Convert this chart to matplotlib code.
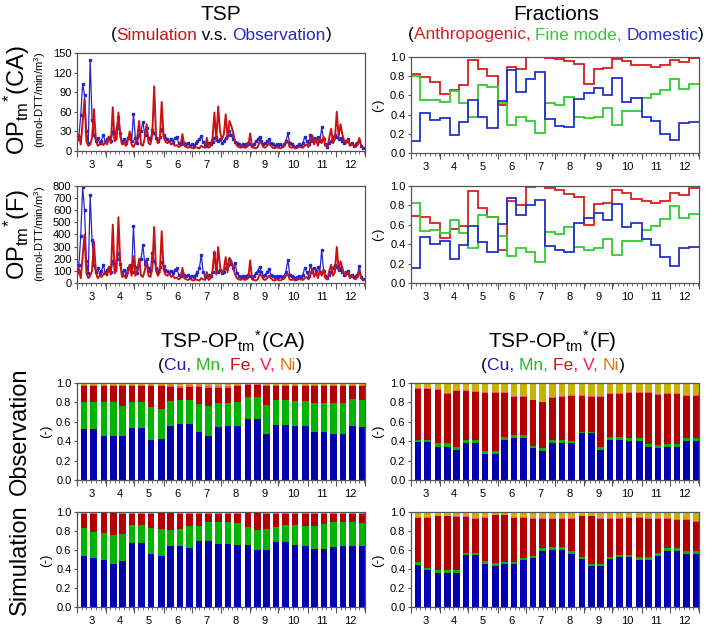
import numpy as np
import matplotlib
matplotlib.use('Agg')
import matplotlib.pyplot as plt

plt.rcParams['font.family'] = ['Liberation Sans', 'DejaVu Sans']
plt.rcParams['mathtext.fontset'] = 'custom'
plt.rcParams['mathtext.rm'] = 'Liberation Sans'
plt.rcParams['mathtext.it'] = 'Liberation Sans:italic'
plt.rcParams['mathtext.bf'] = 'Liberation Sans:bold'

# ---- data ----
month_labels = ['3', '4', '5', '6', '7', '8', '9', '10', '11', '12']
month_days = [31, 30, 31, 30, 31, 31, 30, 31, 30, 31]

# TSP OP (CA), every 2 days from 1 March
sim_ca = [12, 25, 10, 45, 79, 15, 8, 10, 20, 64,
          18, 8, 10, 12, 9, 14, 10, 22, 12, 67,
          15, 18, 59, 22, 10, 12, 8, 16, 30, 10,
          6, 12, 20, 46, 10, 8, 20, 41, 12, 10,
          25, 99, 22, 12, 18, 75, 22, 14, 12, 15,
          10, 12, 8, 9, 6, 8, 26, 8, 6, 5,
          7, 5, 4, 6, 5, 4, 8, 6, 5, 20,
          5, 8, 20, 59, 15, 68, 30, 18, 25, 56,
          20, 46, 38, 28, 14, 8, 6, 5, 8, 5,
          6, 8, 27, 6, 5, 4, 6, 14, 12, 6,
          5, 8, 12, 8, 5, 4, 6, 5, 4, 6,
          7, 12, 15, 6, 5, 6, 4, 5, 7, 6,
          5, 8, 10, 6, 14, 24, 10, 18, 8, 20,
          12, 22, 8, 6, 20, 34, 12, 18, 60, 22,
          41, 25, 15, 12, 18, 8, 12, 8, 6, 10,
          20, 8, 5]
obs_ca = [18, 22, 55, 103, 85, 30, 12, 140, 48, 25,
          15, 20, 12, 16, 25, 14, 18, 22, 15, 30,
          20, 35, 52, 28, 14, 18, 12, 20, 25, 15,
          57, 20, 12, 25, 30, 45, 25, 35, 20, 18,
          32, 28, 20, 15, 22, 33, 25, 20, 18, 15,
          18, 14, 20, 22, 12, 10, 15, 12, 10, 12,
          8, 10, 8, 12, 15, 18, 23, 14, 10, 8,
          12, 10, 14, 20, 22, 15, 18, 12, 15, 20,
          25, 30, 24, 18, 14, 12, 10, 8, 10, 8,
          10, 12, 10, 8, 10, 15, 18, 22, 15, 10,
          12, 15, 18, 12, 10, 8, 10, 8, 10, 8,
          10, 15, 27, 12, 10, 8, 6, 8, 10, 8,
          12, 22, 15, 10, 25, 15, 20, 18, 22, 15,
          36, 18, 10, 6, 12, 15, 20, 25, 22, 18,
          20, 15, 12, 15, 18, 10, 12, 8, 10, 12,
          15, 8, 5]
# TSP OP (F)
sim_f = [50, 120, 40, 220, 398, 80, 40, 60, 100, 340,
         90, 40, 60, 50, 70, 90, 60, 130, 70, 481,
         80, 100, 542, 150, 50, 60, 40, 80, 150, 60,
         220, 60, 90, 200, 60, 50, 100, 180, 60, 50,
         120, 462, 100, 60, 90, 426, 110, 70, 60, 80,
         50, 60, 40, 45, 30, 40, 125, 40, 30, 25,
         35, 25, 20, 30, 25, 20, 40, 30, 25, 90,
         25, 40, 100, 261, 70, 297, 130, 80, 110, 214,
         90, 206, 180, 130, 70, 40, 30, 25, 40, 25,
         30, 40, 187, 30, 25, 20, 30, 70, 60, 30,
         25, 40, 60, 40, 25, 20, 30, 25, 20, 30,
         35, 60, 75, 30, 25, 30, 20, 25, 35, 30,
         25, 40, 50, 30, 70, 120, 50, 90, 40, 100,
         60, 110, 40, 30, 100, 150, 60, 90, 297, 110,
         179, 120, 70, 60, 90, 40, 60, 40, 30, 50,
         100, 40, 25]
obs_f = [130, 150, 390, 792, 600, 180, 80, 728, 354, 150,
         90, 120, 80, 100, 150, 80, 110, 130, 90, 180,
         120, 200, 250, 160, 80, 110, 70, 120, 150, 90,
         473, 130, 80, 150, 200, 313, 160, 200, 120, 100,
         250, 180, 120, 90, 130, 170, 140, 110, 100, 90,
         100, 80, 110, 120, 70, 60, 90, 70, 60, 70,
         50, 60, 50, 70, 90, 120, 233, 90, 60, 50,
         70, 60, 90, 250, 130, 90, 110, 80, 90, 120,
         150, 200, 160, 120, 165, 80, 60, 50, 60, 50,
         60, 70, 60, 50, 60, 80, 100, 130, 90, 60,
         70, 90, 115, 70, 60, 50, 60, 50, 60, 50,
         60, 90, 192, 70, 60, 50, 40, 50, 60, 50,
         70, 125, 90, 60, 150, 90, 120, 100, 130, 90,
         275, 100, 60, 40, 70, 90, 120, 150, 130, 110,
         120, 90, 70, 90, 100, 60, 70, 50, 60, 70,
         140, 50, 30]

# dekad fractions
ca_anthro = [.82, .79, .74, .61, .66, .71, .97, .87, .80, .50, .90, .88, 1.0, 1.0, .99,
             .98, .96, .93, .72, .88, .89, .98, .96, .92, .92, .90, .92, .97, .95, .99]
ca_fine = [.80, .55, .55, .53, .65, .52, .37, .71, .69, .52, .29, .37, .33, .21, .52,
           .50, .58, .38, .36, .37, .47, .29, .44, .44, .57, .61, .66, .77, .67, .72]
ca_domestic = [.12, .42, .34, .36, .19, .32, .55, .37, .26, .54, .86, .64, .77, .84, .35,
               .28, .27, .56, .62, .68, .60, .78, .53, .57, .38, .33, .20, .14, .31, .32]
f_anthro = [.69, .68, .62, .46, .56, .59, .95, .77, .68, .34, .85, .80, .99, 1.0, .98,
            .96, .92, .89, .60, .81, .82, .96, .93, .87, .85, .82, .85, .93, .91, .98]
f_fine = [.82, .54, .55, .52, .65, .52, .36, .70, .68, .48, .28, .36, .32, .22, .53,
          .50, .58, .37, .34, .36, .45, .29, .43, .43, .55, .59, .66, .79, .67, .71]
f_domestic = [.15, .47, .40, .43, .25, .39, .59, .42, .32, .61, .88, .70, .80, .86, .38,
              .34, .32, .62, .67, .72, .65, .81, .58, .62, .45, .39, .27, .18, .36, .37]

# metal contributions (Cu, Mn, Fe, V; Ni is the rest), one bar per dekad
obs_ca_cu = [.35, .53, .53, .45, .45, .45, .54, .54, .41, .42, .56, .58, .58, .50, .45, .55,
             .56, .56, .63, .63, .47, .57, .57, .56, .56, .50, .50, .47, .47, .56, .55]
obs_ca_mn = [.35, .27, .27, .35, .35, .31, .26, .26, .34, .31, .25, .24, .24, .28, .31, .24,
             .23, .24, .23, .23, .30, .25, .25, .25, .25, .29, .29, .32, .32, .27, .27]
obs_ca_fe = [.27, .17, .17, .17, .17, .21, .17, .17, .22, .24, .15, .13, .14, .18, .19, .16,
             .16, .17, .12, .12, .20, .15, .15, .16, .16, .18, .18, .18, .18, .14, .15]
obs_ca_v = [.01, .01, .01, .01, .01, .01, .01, .01, .01, .01, .02, .02, .02, .02, .02, .02,
            .02, .01, .01, .01, .01, .01, .01, .01, .01, .01, .01, .01, .01, .01, .01]
sim_ca_cu = [.54, .54, .52, .49, .45, .48, .67, .67, .56, .54, .64, .64, .62, .69, .69, .66,
             .66, .65, .65, .60, .60, .68, .68, .65, .64, .61, .61, .63, .64, .64, .64]
sim_ca_mn = [.29, .29, .27, .29, .31, .29, .19, .19, .27, .28, .17, .18, .23, .16, .20, .23,
             .23, .23, .19, .21, .22, .16, .18, .21, .21, .24, .26, .26, .25, .25, .24]
sim_ca_fe = [.15, .15, .19, .21, .23, .21, .12, .12, .15, .17, .18, .16, .13, .13, .09, .09,
             .09, .10, .15, .18, .16, .14, .12, .12, .13, .13, .11, .09, .09, .09, .10]
sim_ca_v = [.005] * 31
obs_f_cu = [.22, .39, .39, .34, .34, .31, .38, .38, .27, .27, .41, .43, .43, .33, .30, .38,
            .38, .38, .48, .48, .31, .41, .41, .40, .40, .34, .33, .34, .34, .40, .40]
obs_f_mn = [.02, .02, .02, .04, .04, .03, .03, .03, .03, .03, .03, .03, .03, .02, .03, .03,
            .03, .02, .02, .02, .03, .03, .03, .03, .03, .03, .03, .03, .03, .03, .03]
obs_f_fe = [.64, .53, .53, .55, .51, .58, .51, .50, .60, .60, .46, .40, .40, .47, .47, .44,
            .45, .47, .37, .36, .52, .45, .45, .47, .47, .53, .52, .52, .52, .44, .44]
obs_f_v = [.005] * 31
sim_f_cu = [.44, .44, .39, .36, .36, .36, .55, .55, .45, .43, .45, .45, .50, .52, .59, .60,
            .60, .56, .51, .43, .43, .51, .53, .53, .50, .50, .54, .59, .59, .56, .56]
sim_f_mn = [.03, .03, .02, .03, .03, .03, .02, .02, .03, .03, .02, .02, .02, .02, .03, .03,
            .03, .03, .02, .02, .02, .02, .02, .02, .03, .03, .03, .03, .03, .03, .03]
sim_f_fe = [.47, .47, .53, .57, .57, .56, .38, .36, .46, .51, .50, .47, .42, .39, .31, .30,
            .30, .34, .43, .51, .48, .40, .38, .39, .41, .40, .36, .31, .30, .33, .31]
sim_f_v = [.003] * 31

# ---- colours ----
RED, BLUE = '#cc1111', '#2626cc'
FR_RED, FR_GREEN, FR_BLUE = '#d62020', '#33cc33', '#2233cc'
C_CU, C_MN, C_FE, C_V, C_NI = '#0000b2', '#00b400', '#b40000', '#ff4d80', '#c8b400'
T_CU, T_MN, T_FE, T_V, T_NI = '#1a1acc', '#22bb22', '#cc1111', '#ff1a66', '#dd7711'
FRAME = '#555555'

W, H = 708, 629
fig = plt.figure(figsize=(W / 100, H / 100), dpi=100)

month_start = np.concatenate([[0], np.cumsum(month_days)])
month_mid = (month_start[:-1] + month_start[1:]) / 2
dekad_edges = [s + d for s in month_start[:-1] for d in (0, 10, 20)] + [month_start[-1]]
bar_x = np.array([0] + dekad_edges[1:]) - 2.5


def box(l, t, r, b):
    return fig.add_axes([l / W, 1 - b / H, (r - l) / W, (b - t) / H])


def style(ax, ymax, ystep, fmt):
    ax.set_xlim(0, month_start[-1])
    ax.set_ylim(0, ymax)
    ax.set_yticks(np.arange(0, ymax + ystep / 2, ystep))
    ax.yaxis.set_major_formatter(plt.FormatStrFormatter(fmt))
    ax.set_xticks(month_start)
    ax.set_xticklabels([])
    ax.set_xticks(month_mid, month_labels, minor=True)
    ax.tick_params(axis='x', which='major', length=4.5, width=0.8, color=FRAME)
    ax.tick_params(axis='x', which='minor', length=0, labelsize=8, pad=6.5)
    ax.tick_params(axis='y', length=2.5, width=0.8, color=FRAME, labelsize=8, pad=1.5)
    for sp in ax.spines.values():
        sp.set_color(FRAME)
        sp.set_linewidth(0.9)
    sec = ax.secondary_xaxis('bottom')
    sec.set_xticks(np.arange(0, month_start[-1], 5))
    sec.tick_params(length=2, width=0.6, color=FRAME, labelbottom=False)
    sec.spines['bottom'].set_visible(False)


def series(ax, obs, sim):
    ax.plot(2 * np.arange(len(obs)), obs, color=BLUE, lw=0.9, marker='s', ms=1.8, mec=BLUE)
    ax.plot(2 * np.arange(len(sim)), sim, color=RED, lw=1.4)


def fractions(ax, anthro, fine, dom):
    ax.stairs(anthro, dekad_edges, color=FR_RED, lw=1.3, baseline=None)
    ax.stairs(fine, dekad_edges, color=FR_GREEN, lw=1.3, baseline=None)
    ax.stairs(dom, dekad_edges, color=FR_BLUE, lw=1.3, baseline=None)


def bars(ax, cu, mn, fe, v):
    parts = [np.array(cu), np.array(mn), np.array(fe), np.array(v)]
    parts.append(1 - sum(parts))
    bottom = np.zeros(len(cu))
    for p, c in zip(parts, [C_CU, C_MN, C_FE, C_V, C_NI]):
        ax.bar(bar_x, p, bottom=bottom, width=7, color=c, lw=0)
        bottom += p


ax = box(77, 53, 365, 151)
series(ax, obs_ca, sim_ca)
style(ax, 150, 30, '%d')
ax = box(77, 186, 365, 283)
series(ax, obs_f, sim_f)
style(ax, 800, 100, '%d')

ax = box(411, 57, 699, 153)
fractions(ax, ca_anthro, ca_fine, ca_domestic)
style(ax, 1.0, 0.2, '%.1f')
ax = box(411, 186, 699, 283)
fractions(ax, f_anthro, f_fine, f_domestic)
style(ax, 1.0, 0.2, '%.1f')

ax = box(77, 383, 365, 480)
bars(ax, obs_ca_cu, obs_ca_mn, obs_ca_fe, obs_ca_v)
style(ax, 1.0, 0.2, '%.1f')
ax = box(77, 512, 365, 607)
bars(ax, sim_ca_cu, sim_ca_mn, sim_ca_fe, sim_ca_v)
style(ax, 1.0, 0.2, '%.1f')
ax = box(411, 383, 699, 480)
bars(ax, obs_f_cu, obs_f_mn, obs_f_fe, obs_f_v)
style(ax, 1.0, 0.2, '%.1f')
ax = box(411, 512, 699, 607)
bars(ax, sim_f_cu, sim_f_mn, sim_f_fe, sim_f_v)
style(ax, 1.0, 0.2, '%.1f')

# ---- texts ----
renderer = fig.canvas.get_renderer()


def text_width(s, size):
    t = fig.text(0, 0, s, fontsize=size)
    w = t.get_window_extent(renderer).width
    t.remove()
    return w


def colored(xc, yb, parts, size):
    full = ''.join(s for s, _ in parts)
    bar_w = text_width('|', size)
    x0 = xc - text_width(full, size) / 2
    prefix = ''
    for s, c in parts:
        off = text_width(prefix + '|', size) - bar_w
        fig.text((x0 + off) / W, 1 - yb / H, s, color=c, fontsize=size, va='baseline')
        prefix += s


def label(x, y, s, size, **kw):
    fig.text(x / W, 1 - y / H, s, fontsize=size, ha='center', va='center', **kw)


fig.text(221 / W, 1 - 20 / H, 'TSP', fontsize=15, ha='center', va='baseline')
colored(221, 39.5, [('(', 'k'), ('Simulation', RED), (' v.s. ', 'k'),
                    ('Observation', BLUE), (')', 'k')], 12.4)
fig.text(556 / W, 1 - 20 / H, 'Fractions', fontsize=15, ha='center', va='baseline')
colored(556, 39.5, [('(', 'k'), ('Anthropogenic, ', FR_RED), ('Fine mode, ', FR_GREEN),
                    ('Domestic', FR_BLUE), (')', 'k')], 12.4)

fig.text(232 / W, 1 - 348 / H, r'TSP-OP$_{\mathrm{tm}}$$^{*}$(CA)', fontsize=15,
         ha='center', va='baseline')
fig.text(552 / W, 1 - 348 / H, r'TSP-OP$_{\mathrm{tm}}$$^{*}$(F)', fontsize=15,
         ha='center', va='baseline')
metal_parts = [('(', 'k'), ('Cu, ', T_CU), ('Mn, ', T_MN), ('Fe, ', T_FE),
               ('V, ', T_V), ('Ni', T_NI), (')', 'k')]
colored(230, 370, metal_parts, 12.6)
colored(553, 370, metal_parts, 12.6)

label(17, 100, r'OP$_{\mathrm{tm}}$$^{*}$(CA)', 17, rotation=90)
label(40, 100, r'(nmol-DTT/min/m$^{3}$)', 8, rotation=90)
label(17, 234, r'OP$_{\mathrm{tm}}$$^{*}$(F)', 17, rotation=90)
label(40, 234, r'(nmol-DTT/min/m$^{3}$)', 8, rotation=90)
label(378, 105, '(-)', 9.5, rotation=90)
label(378, 234, '(-)', 9.5, rotation=90)

label(20, 431, 'Observation', 17, rotation=90)
label(46, 431, '(-)', 9.5, rotation=90)
label(20, 560, 'Simulation', 17, rotation=90)
label(46, 560, '(-)', 9.5, rotation=90)
label(378, 431, '(-)', 9.5, rotation=90)
label(378, 560, '(-)', 9.5, rotation=90)

fig.savefig('out.png', dpi=100)
